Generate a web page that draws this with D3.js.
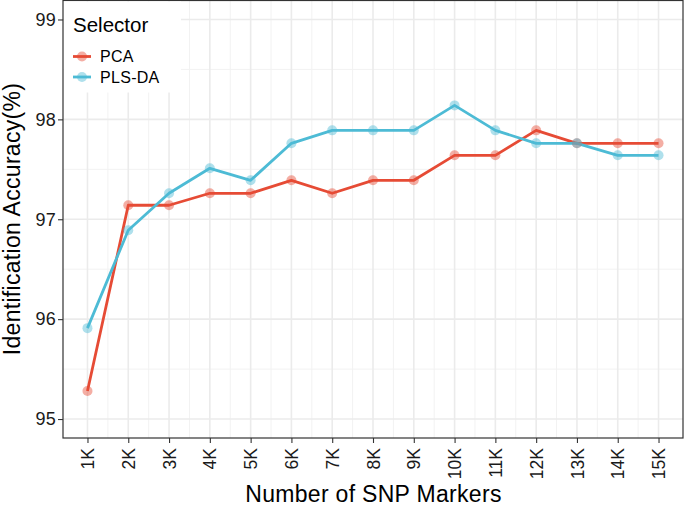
<!DOCTYPE html>
<html>
<head>
<meta charset="utf-8">
<script src="https://cdn.jsdelivr.net/npm/d3@7"></script>
<style>
html,body{margin:0;padding:0;background:#fff;}
svg{display:block;font-family:"Liberation Sans",Arial,sans-serif;}
</style>
</head>
<body>
<svg id="chart" width="685" height="506"></svg>
<script>
const categories = ["1K","2K","3K","4K","5K","6K","7K","8K","9K","10K","11K","12K","13K","14K","15K"];
const pcaValues = [95.28,97.14,97.14,97.26,97.26,97.39,97.26,97.39,97.39,97.64,97.64,97.89,97.76,97.76,97.76];
const plsdaValues = [95.91,96.89,97.26,97.51,97.39,97.76,97.89,97.89,97.89,98.14,97.89,97.76,97.76,97.64,97.64];
const yTicks = [95,96,97,98,99];
const seriesNames = ["PCA","PLS-DA"];
const seriesColors = ["#E64B35","#4DBBD5"];

const svg = d3.select("#chart");
const pLeft = 63, pRight = 683, pTop = 0, pBottom = 438;

const x = d3.scaleLinear().domain([0.4, 15.6]).range([pLeft, pRight]);
const y = d3.scaleLinear().domain([94.81, 99.195]).range([pBottom, pTop]);

// minor grid
const g = svg.append("g");
const xMinor = d3.range(1.5, 15, 1);
const yMinor = [95.5,96.5,97.5,98.5];
g.selectAll(".xm").data(xMinor).enter().append("line")
  .attr("x1", d=>x(d)).attr("x2", d=>x(d)).attr("y1", pTop).attr("y2", pBottom)
  .attr("stroke", "#F2F2F2").attr("stroke-width", 1);
g.selectAll(".ym").data(yMinor).enter().append("line")
  .attr("x1", pLeft).attr("x2", pRight).attr("y1", d=>y(d)).attr("y2", d=>y(d))
  .attr("stroke", "#F2F2F2").attr("stroke-width", 1);
// major grid
g.selectAll(".xM").data(categories).enter().append("line")
  .attr("x1", (d,i)=>x(i+1)).attr("x2", (d,i)=>x(i+1)).attr("y1", pTop).attr("y2", pBottom)
  .attr("stroke", "#EBEBEB").attr("stroke-width", 1.6);
g.selectAll(".yM").data(yTicks).enter().append("line")
  .attr("x1", pLeft).attr("x2", pRight).attr("y1", d=>y(d)).attr("y2", d=>y(d))
  .attr("stroke", "#EBEBEB").attr("stroke-width", 1.6);

// series
const series = [pcaValues, plsdaValues];
const line = d3.line().x((d,i)=>x(i+1)).y(d=>y(d));
series.forEach((vals, s) => {
  svg.append("path").datum(vals).attr("d", line)
    .attr("fill","none").attr("stroke", seriesColors[s]).attr("stroke-width", 2.8)
    .attr("stroke-linejoin","round");
});
series.forEach((vals, s) => {
  svg.append("g").selectAll("circle").data(vals).enter().append("circle")
    .attr("cx",(d,i)=>x(i+1)).attr("cy", d=>y(d)).attr("r", 5)
    .attr("fill", seriesColors[s]).attr("fill-opacity", 0.45);
});

// panel border
svg.append("rect").attr("x", pLeft).attr("y", pTop+0.5).attr("width", pRight-pLeft).attr("height", pBottom-pTop-0.5)
  .attr("fill","none").attr("stroke","#333333").attr("stroke-width",1.2);

// y axis
const yAxis = d3.axisLeft(y).tickValues(yTicks).tickSize(5).tickPadding(2).tickFormat(d3.format("d"));
const ya = svg.append("g").attr("transform", `translate(${pLeft},0)`).call(yAxis);
ya.select(".domain").remove();
ya.selectAll(".tick line").attr("stroke","#333333").attr("stroke-width",1.1);
ya.selectAll(".tick text").attr("fill","#1a1a1a").style("font-size","18px").style("letter-spacing","0.3px");

// x axis
const xAxis = d3.axisBottom(x).tickValues(d3.range(1,16)).tickSize(5).tickFormat((d)=>categories[d-1]);
const xa = svg.append("g").attr("transform", `translate(0,${pBottom})`).call(xAxis);
xa.select(".domain").remove();
xa.selectAll(".tick line").attr("stroke","#333333").attr("stroke-width",1.1);
xa.selectAll(".tick text").attr("fill","#1a1a1a").style("font-size","17.5px")
  .attr("transform","rotate(-90)").attr("text-anchor","end").attr("x",-10).attr("y",0).attr("dy","0.35em");

// axis titles
svg.append("text").attr("x", 373.5).attr("y", 501.5).attr("text-anchor","middle")
  .style("font-size","23px").style("letter-spacing","0.3px").attr("fill","#000").text("Number of SNP Markers");
svg.append("text").attr("transform", `translate(19.5,${(pTop+pBottom)/2}) rotate(-90)`).attr("text-anchor","middle")
  .style("font-size","23px").style("letter-spacing","0.3px").attr("fill","#000").text("Identification Accuracy(%)");

// legend
const lg = svg.append("g");
lg.append("rect").attr("x", pLeft+1).attr("y", 1.5).attr("width", 117).attr("height", 91).attr("fill","#fff");
lg.append("text").attr("x", 73).attr("y", 31.5).style("font-size","20.5px").attr("fill","#000").text("Selector");
seriesNames.forEach((name, i) => {
  const cy = 56.5 + i*20.5;
  lg.append("line").attr("x1", 73).attr("x2", 91).attr("y1", cy).attr("y2", cy)
    .attr("stroke", seriesColors[i]).attr("stroke-width", 2.8);
  lg.append("circle").attr("cx", 82).attr("cy", cy).attr("r", 5)
    .attr("fill", seriesColors[i]).attr("fill-opacity", 0.45);
  lg.append("text").attr("x", 100).attr("y", cy).attr("dy","0.35em")
    .style("font-size","16px").style("letter-spacing","0.3px").attr("fill","#000").text(name);
});
</script>
</body>
</html>
